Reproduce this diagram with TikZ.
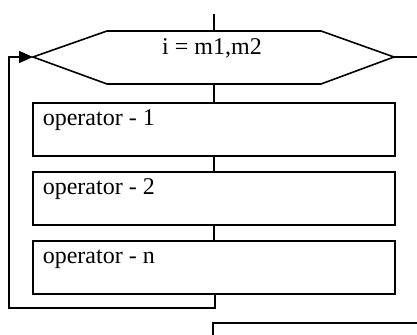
\documentclass[tikz,border=0pt]{standalone}
\usepackage{fontspec}
\setmainfont{Liberation Serif}
\usetikzlibrary{arrows.meta}
\begin{document}
\begin{tikzpicture}[x=0.5pt,y=-0.5pt,
  line width=0.8pt,
  opbox/.style={draw,rectangle,minimum width=181pt,minimum height=26.5pt,inner sep=0pt,outer sep=0pt,anchor=north west},
  optext/.style={anchor=base west,inner sep=0pt,font=\fontsize{12}{14}\selectfont},
  conn/.style={draw,line width=0.8pt}]
\useasboundingbox (0,0) rectangle (417,335);
\clip (0,0) rectangle (417,335);
% hexagon vertices
\coordinate (hw) at (33,57);
\coordinate (htl) at (107,31);
\coordinate (htr) at (321,31);
\coordinate (he) at (394,57);
\coordinate (hbr) at (321,84);
\coordinate (hbl) at (107,84);
\coordinate (hn) at (214,31);
\coordinate (hs) at (214,84);
\draw (hw) -- (htl) -- (htr) -- (he) -- (hbr) -- (hbl) -- cycle;
\node[anchor=base,inner sep=0pt,font=\fontsize{12}{14}\selectfont] (hex) at (212,55) {i = m1,m2};
% boxes
\node[opbox] (b1) at (33,103) {};
\node[opbox] (b2) at (33,172) {};
\node[opbox] (b3) at (33,241) {};
\node[opbox] (b4) at (213,323) {};
\node[optext] (t1) at ([shift={(9,23)}]b1.north west) {operator - 1};
\node[optext] (t2) at ([shift={(9,23)}]b2.north west) {operator - 2};
\node[optext] (t3) at ([shift={(9,23)}]b3.north west) {operator - n};
% connectors
\coordinate (top) at (214,14);
\coordinate (right) at (420,57);
\coordinate (lb) at (215,308);
\coordinate (ll) at (9,308);
\coordinate (lu) at (9,57);
\draw[conn] (top) -- (hn);
\draw[conn] (hs) -- (b1.north);
\draw[conn] (b1.south) -- (b2.north);
\draw[conn] (b2.south) -- (b3.north);
\draw[conn] (he) -- (right);
\draw[conn,-{Triangle[length=7pt,width=6pt]}] ([xshift=0.5pt]b3.south) -- (lb) -- (ll) -- (lu) -- (hw);
\end{tikzpicture}
\end{document}
